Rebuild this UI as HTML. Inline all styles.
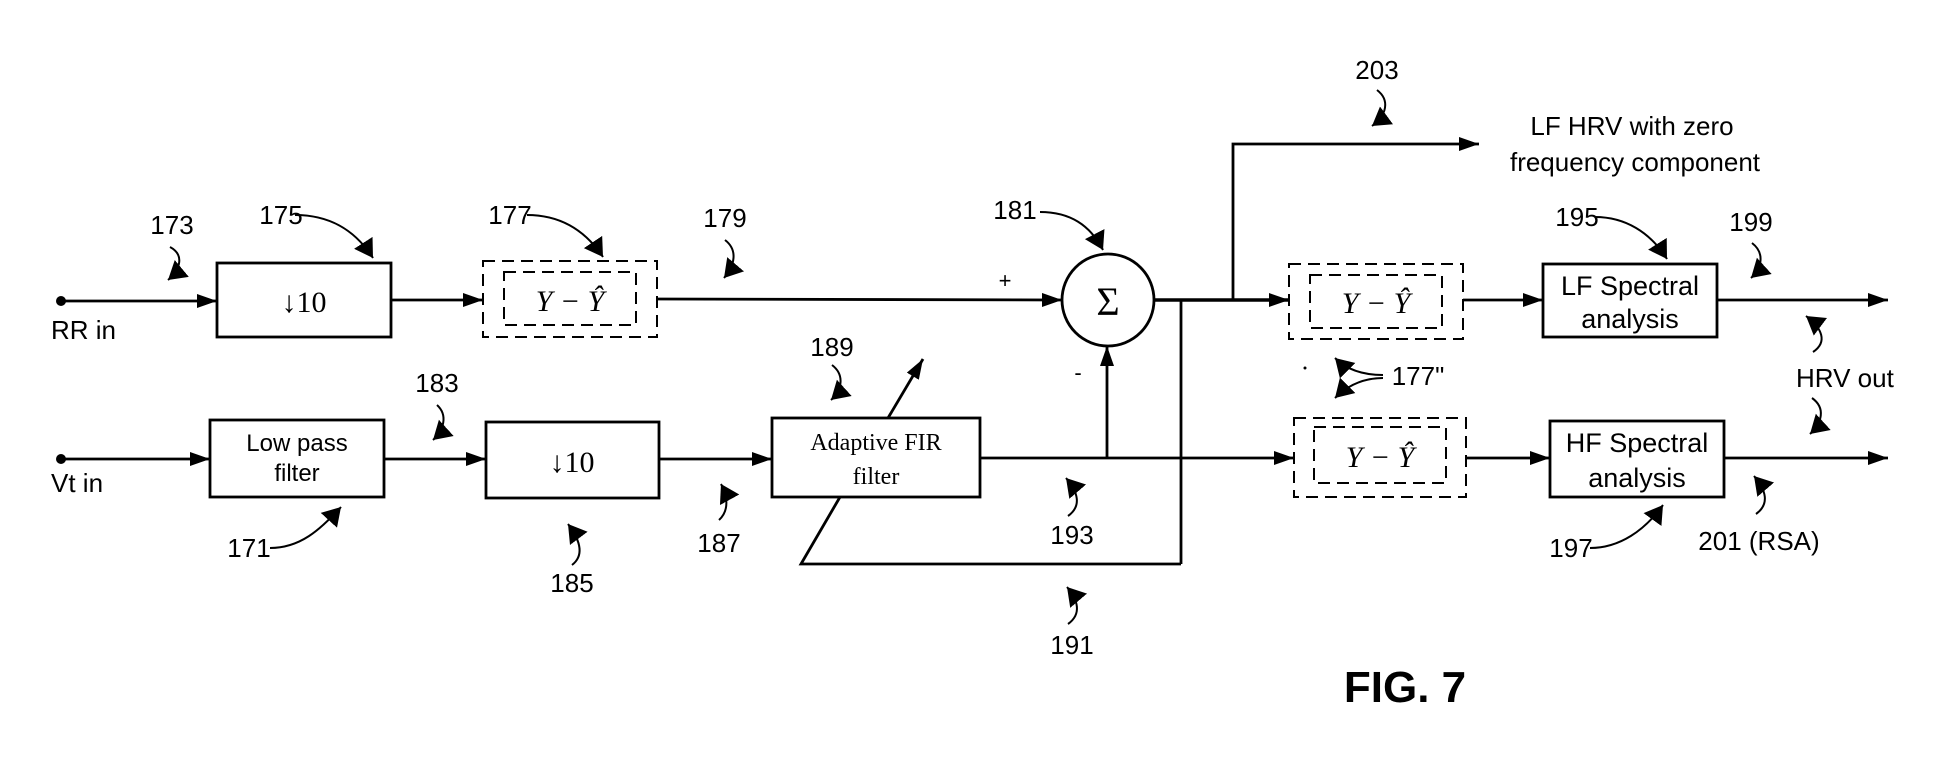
<!DOCTYPE html>
<html><head><meta charset="utf-8"><style>
html,body{margin:0;padding:0;background:#fff;}
svg{display:block;}
.s{font-family:"Liberation Sans",sans-serif;fill:#000;}
.r{font-family:"Liberation Serif",serif;fill:#000;}
</style></head><body>
<svg width="1949" height="768" viewBox="0 0 1949 768" xmlns="http://www.w3.org/2000/svg">
<defs>
<marker id="a" viewBox="0 0 20 14" refX="20" refY="7" markerWidth="20" markerHeight="14" markerUnits="userSpaceOnUse" orient="auto"><path d="M0,0 L20,7 L0,14 Z" fill="#000"/></marker>
<marker id="h" viewBox="0 0 18 26" refX="18" refY="13" markerWidth="18" markerHeight="26" markerUnits="userSpaceOnUse" orient="auto"><path d="M0,2 L18,13 L0,24 Z" fill="#000"/></marker>
</defs>
<g stroke="#000" stroke-width="2.8" fill="none">
<line x1="61" y1="301" x2="217" y2="301" marker-end="url(#a)"/>
<rect x="217" y="263" width="174" height="74"/>
<line x1="391" y1="300" x2="483" y2="300" marker-end="url(#a)"/>
<line x1="657" y1="299" x2="1062" y2="300" marker-end="url(#a)"/>
<circle cx="1108" cy="300" r="46"/>
<line x1="1154" y1="300" x2="1289" y2="300" stroke-width="3.5" marker-end="url(#a)"/>
<polyline points="1233,300 1233,144 1479,144" marker-end="url(#a)"/>
<line x1="1181" y1="300" x2="1181" y2="564"/>
<line x1="1463" y1="300" x2="1543" y2="300" marker-end="url(#a)"/>
<rect x="1543" y="264" width="174" height="73"/>
<line x1="1717" y1="300" x2="1888" y2="300" marker-end="url(#a)"/>
<line x1="61" y1="459" x2="210" y2="459" marker-end="url(#a)"/>
<rect x="210" y="420" width="174" height="77"/>
<line x1="384" y1="459" x2="486" y2="459" marker-end="url(#a)"/>
<rect x="486" y="422" width="173" height="76"/>
<line x1="659" y1="459" x2="772" y2="459" marker-end="url(#a)"/>
<rect x="772" y="418" width="208" height="79"/>
<line x1="980" y1="458" x2="1294" y2="458" marker-end="url(#a)"/>
<line x1="1107" y1="458" x2="1107" y2="346" marker-end="url(#a)"/>
<polyline points="840,497 801,564 1181,564"/>
<line x1="888" y1="418" x2="923" y2="359" marker-end="url(#a)"/>
<line x1="1466" y1="458" x2="1550" y2="458" marker-end="url(#a)"/>
<rect x="1550" y="421" width="174" height="76"/>
<line x1="1724" y1="458" x2="1888" y2="458" marker-end="url(#a)"/>
<g stroke-dasharray="12,7" stroke-width="2">
<rect x="483" y="261" width="174" height="76"/>
<rect x="504" y="272" width="132" height="53"/>
<rect x="1289" y="264" width="174" height="75"/>
<rect x="1310" y="275" width="132" height="53"/>
<rect x="1294" y="418" width="172" height="79"/>
<rect x="1314" y="427" width="132" height="56"/>
</g>
<g stroke-width="2">
<path d="M170,247 C185,255 180,270 168,280" marker-end="url(#h)"/>
<path d="M295,215 C330,215 355,230 373,258" marker-end="url(#h)"/>
<path d="M527,215 C560,215 585,230 603,257" marker-end="url(#h)"/>
<path d="M725,240 C738,250 735,265 724,278" marker-end="url(#h)"/>
<path d="M437,405 C448,415 444,430 433,440" marker-end="url(#h)"/>
<path d="M270,548 C300,548 320,530 341,507" marker-end="url(#h)"/>
<path d="M572,565 C585,555 580,540 568,524" marker-end="url(#h)"/>
<path d="M719,520 C730,510 727,495 721,484" marker-end="url(#h)"/>
<path d="M832,365 C845,375 842,390 831,400" marker-end="url(#h)"/>
<path d="M1068,516 C1082,506 1078,492 1066,478" marker-end="url(#h)"/>
<path d="M1068,624 C1082,614 1078,600 1067,587" marker-end="url(#h)"/>
<path d="M1377,90 C1390,100 1387,115 1372,126" marker-end="url(#h)"/>
<path d="M1040,212 C1070,212 1090,225 1103,250" marker-end="url(#h)"/>
<path d="M1595,217 C1625,217 1650,232 1667,259" marker-end="url(#h)"/>
<path d="M1752,243 C1765,253 1762,268 1751,278" marker-end="url(#h)"/>
<path d="M1813,352 C1828,342 1822,328 1806,316" marker-end="url(#h)"/>
<path d="M1812,398 C1826,408 1822,423 1810,434" marker-end="url(#h)"/>
<path d="M1756,514 C1770,504 1766,490 1754,476" marker-end="url(#h)"/>
<path d="M1590,548 C1620,548 1645,530 1663,505" marker-end="url(#h)"/>
<path d="M1383,375 C1360,375 1345,368 1335,358" marker-end="url(#h)"/>
<path d="M1383,378 C1360,378 1345,388 1335,398" marker-end="url(#h)"/>
</g>
</g>
<circle cx="61" cy="301" r="5" fill="#000"/>
<circle cx="61" cy="459" r="5" fill="#000"/>
<circle cx="1305" cy="368" r="1.5" fill="#000"/>
<g class="s" font-size="26">
<text x="51" y="339">RR in</text>
<text x="51" y="492">Vt in</text>
<text x="172" y="234" text-anchor="middle">173</text>
<text x="281" y="224" text-anchor="middle">175</text>
<text x="510" y="224" text-anchor="middle">177</text>
<text x="725" y="227" text-anchor="middle">179</text>
<text x="1015" y="219" text-anchor="middle">181</text>
<text x="437" y="392" text-anchor="middle">183</text>
<text x="249" y="557" text-anchor="middle">171</text>
<text x="572" y="592" text-anchor="middle">185</text>
<text x="719" y="552" text-anchor="middle">187</text>
<text x="832" y="356" text-anchor="middle">189</text>
<text x="1072" y="544" text-anchor="middle">193</text>
<text x="1072" y="654" text-anchor="middle">191</text>
<text x="1377" y="79" text-anchor="middle">203</text>
<text x="1577" y="226" text-anchor="middle">195</text>
<text x="1751" y="231" text-anchor="middle">199</text>
<text x="1571" y="557" text-anchor="middle">197</text>
<text x="1759" y="550" text-anchor="middle">201 (RSA)</text>
<text x="1418" y="385" text-anchor="middle">177"</text>
<text x="1796" y="387">HRV out</text>
<text x="1632" y="135" text-anchor="middle">LF HRV with zero</text>
<text x="1635" y="171" text-anchor="middle">frequency component</text>
<text x="1005" y="288" text-anchor="middle" font-size="22">+</text>
<text x="1078" y="380" text-anchor="middle" font-size="22">-</text>
<text x="297" y="451" text-anchor="middle" font-size="24">Low pass</text>
<text x="297" y="481" text-anchor="middle" font-size="24">filter</text>
<text x="1630" y="295" text-anchor="middle" font-size="27">LF Spectral</text>
<text x="1630" y="328" text-anchor="middle" font-size="27">analysis</text>
<text x="1637" y="452" text-anchor="middle" font-size="27">HF Spectral</text>
<text x="1637" y="487" text-anchor="middle" font-size="27">analysis</text>
<text x="1405" y="702" text-anchor="middle" font-size="44" font-weight="bold">FIG. 7</text>
</g>
<g class="r">
<text x="876" y="450" text-anchor="middle" font-size="24">Adaptive FIR</text>
<text x="876" y="484" text-anchor="middle" font-size="24">filter</text>
<text x="304" y="312" text-anchor="middle" font-size="30">↓10</text>
<text x="572" y="472" text-anchor="middle" font-size="30">↓10</text>
<text x="1108" y="315" text-anchor="middle" font-size="40">Σ</text>
<text x="570" y="311" text-anchor="middle" font-size="30" font-style="italic">Y − Ŷ</text>
<text x="1376" y="313" text-anchor="middle" font-size="30" font-style="italic">Y − Ŷ</text>
<text x="1380" y="467" text-anchor="middle" font-size="30" font-style="italic">Y − Ŷ</text>
</g>
</svg>
</body></html>
